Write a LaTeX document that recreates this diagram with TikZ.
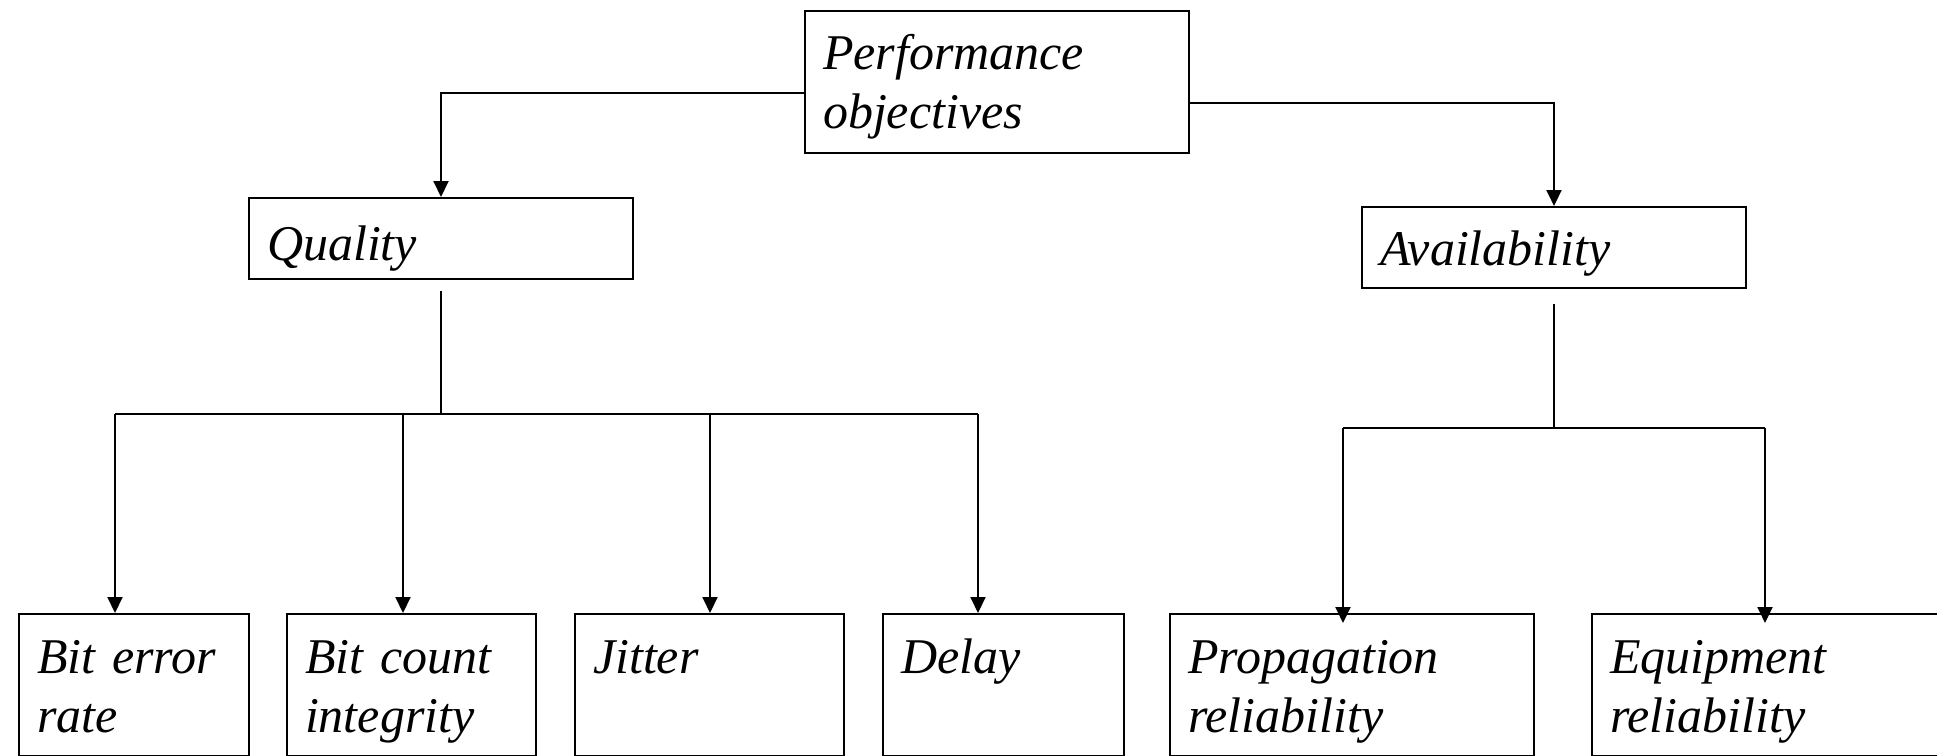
\documentclass[tikz,border=0pt]{standalone}
\usepackage{fontspec}
\setmainfont{Liberation Serif}
\usetikzlibrary{arrows.meta}

\begin{document}
\begin{tikzpicture}[
    x=0.5pt, y=-0.5pt,
    box/.style={rectangle, draw=black, line width=1pt, anchor=north west, inner xsep=9pt, inner ysep=0pt, align=left, text height=29.5pt, text depth=41.5pt, font=\fontsize{25}{29.5}\selectfont\itshape},
    arrow/.style={-{Triangle[length=8pt, width=7.5pt]}, line width=1pt},
    link/.style={line width=1pt}
]
\useasboundingbox (0,0) rectangle (1937,755);

% Top: objectives
\node[box, text width=174pt, text height=29pt, text depth=42pt] (perf) at (804,10) {Performance\\objectives};

% Second level
\node[box, text width=174pt, text height=31pt, text depth=9.5pt] (qual) at (248,197) {Quality};
\node[box, text width=174pt, text height=29pt, text depth=11.5pt] (avail) at (1361,206) {Availability};

% Bottom row
\node[box, text width=97pt] (ber) at (18,613) {Bit error\\rate};
\node[box, text width=106.5pt] (bci) at (286,613) {Bit count\\integrity};
\node[box, text width=116.5pt] (jit) at (574,613) {Jitter};
\node[box, text width=102.5pt] (del) at (882,613) {Delay};
\node[box, text width=164pt] (prop) at (1169,613) {Propagation\\reliability};
\node[box, text width=182pt] (equip) at (1591,613) {Equipment\\reliability};

% Arrows from the top box
\draw[arrow] ([yshift=-5.5pt]perf.west) -| (qual.north);
\draw[arrow] ([yshift=-10.5pt]perf.east) -| (avail.north);

% Quality branch
\coordinate (qbus) at ([yshift=-67pt]qual.south);
\coordinate (berin) at ([xshift=-9.5pt]ber.north);
\coordinate (bciin) at ([xshift=-4.25pt]bci.north);
\coordinate (jitin) at ([xshift=0.25pt]jit.north);
\coordinate (delin) at ([xshift=-12.75pt]del.north);
\draw[link] ([yshift=-5.5pt]qual.south) -- (qbus);
\draw[link] (qbus -| berin) -- (qbus -| delin);
\foreach \c in {berin, bciin, jitin, delin}
  \draw[arrow] (qbus -| \c) -- (\c);

% Availability branch
\coordinate (abus) at ([yshift=-69.5pt]avail.south);
\coordinate (propin) at ([xshift=-4.5pt, yshift=-5pt]prop.north);
\coordinate (equipin) at ([xshift=-13.5pt, yshift=-5pt]equip.north);
\draw[link] ([yshift=-7.5pt]avail.south) -- (abus);
\draw[link] (abus -| propin) -- (abus -| equipin);
\foreach \c in {propin, equipin}
  \draw[arrow] (abus -| \c) -- (\c);

\end{tikzpicture}
\end{document}
